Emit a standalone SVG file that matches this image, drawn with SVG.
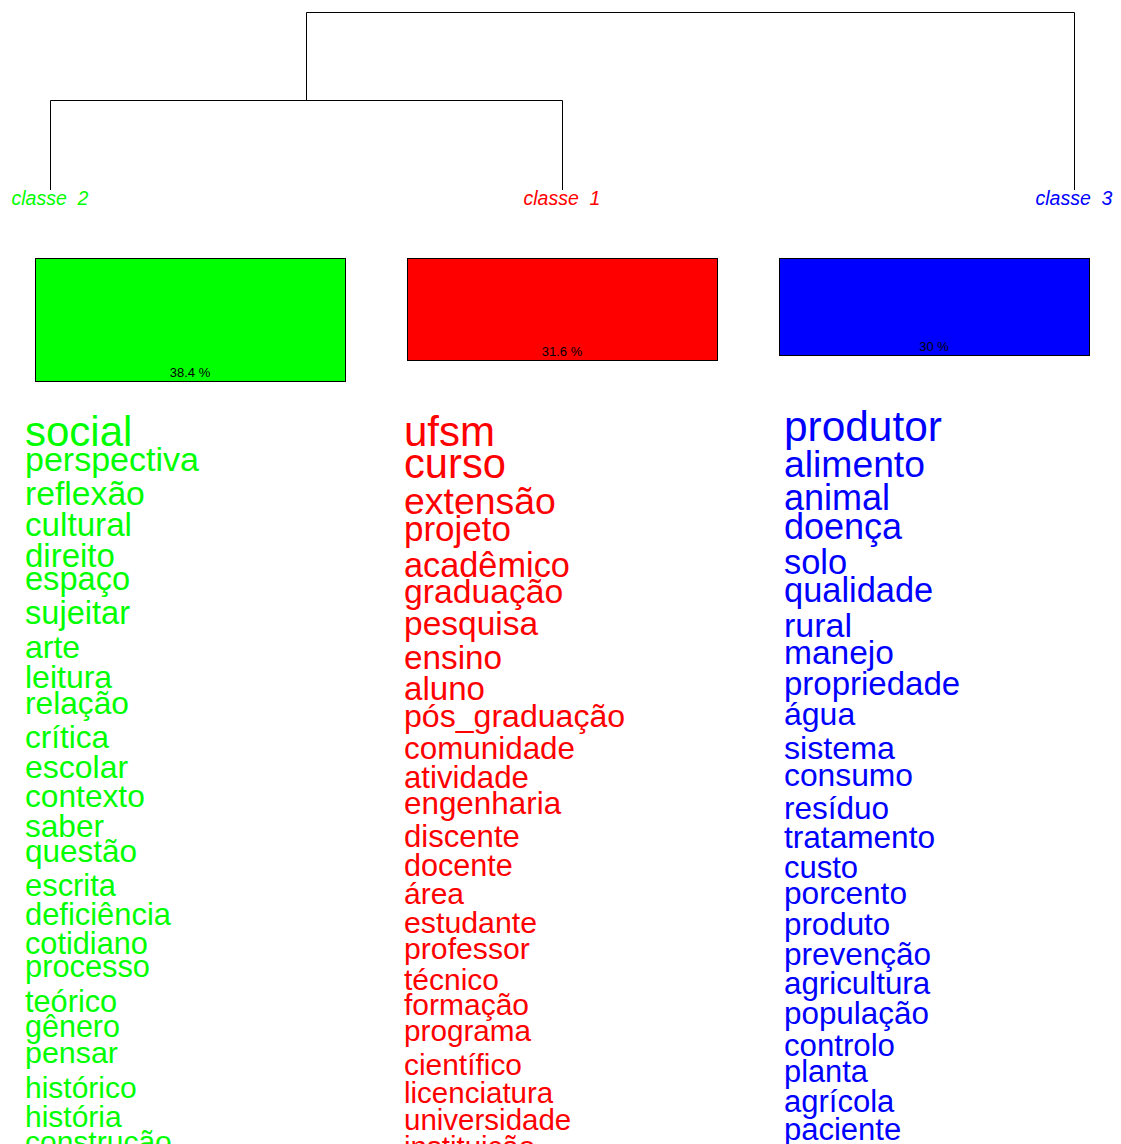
<svg xmlns="http://www.w3.org/2000/svg" width="1121" height="1144" viewBox="0 0 1121 1144">
<style>
text{font-family:"Liberation Sans",Arial,sans-serif}
.g{fill:#00FF00}.r{fill:#FF0000}.b{fill:#0000FF}
.lbl{font-style:italic;font-size:19.5px;text-anchor:middle}
.pct{font-size:13px;text-anchor:middle;fill:#000}
.box{stroke:#000;stroke-width:1}
.tree{stroke:#000;stroke-width:1;fill:none}
</style>
<rect width="1121" height="1144" fill="#fff"/>
<g id="connectors">
<path class="tree" d="M306.5,100V12.5H1074.5V190"/>
<path class="tree" d="M50.5,190V100.5H562.5V190"/>
</g>
<g id="classe2">
<text class="lbl g" x="50" y="205" xml:space="preserve">classe  2</text>
<rect class="box" x="35.5" y="258.5" width="310" height="123" fill="#00FF00"/>
<text class="pct" x="190" y="377">38.4 %</text>
<g class="g">
<text x="25" y="446" font-size="42">social</text>
<text x="25" y="471" font-size="34">perspectiva</text>
<text x="25" y="505" font-size="33.7">reflexão</text>
<text x="25" y="536" font-size="33.2">cultural</text>
<text x="25" y="567" font-size="33">direito</text>
<text x="25" y="590" font-size="32.6">espaço</text>
<text x="25" y="624" font-size="32.6">sujeitar</text>
<text x="25" y="658" font-size="32">arte</text>
<text x="25" y="688" font-size="32">leitura</text>
<text x="25" y="714" font-size="31.7">relação</text>
<text x="25" y="748" font-size="31.5">crítica</text>
<text x="25" y="778" font-size="32">escolar</text>
<text x="25" y="807" font-size="31.7">contexto</text>
<text x="25" y="837" font-size="31.6">saber</text>
<text x="25" y="862" font-size="31.5">questão</text>
<text x="25" y="896" font-size="30.9">escrita</text>
<text x="25" y="925" font-size="30.9">deficiência</text>
<text x="25" y="954" font-size="30.7">cotidiano</text>
<text x="25" y="977" font-size="30.8">processo</text>
<text x="25" y="1012" font-size="30.7">teórico</text>
<text x="25" y="1037" font-size="30.5">gênero</text>
<text x="25" y="1063" font-size="30.4">pensar</text>
<text x="25" y="1098" font-size="30">histórico</text>
<text x="25" y="1127" font-size="30">história</text>
<text x="25" y="1152" font-size="30">construção</text>
</g>
</g>
<g id="classe1">
<text class="lbl r" x="562" y="205" xml:space="preserve">classe  1</text>
<rect class="box" x="407.5" y="258.5" width="310" height="102" fill="#FF0000"/>
<text class="pct" x="562" y="356">31.6 %</text>
<g class="r">
<text x="404" y="446" font-size="42">ufsm</text>
<text x="404" y="478" font-size="41.7">curso</text>
<text x="404" y="514" font-size="37.4">extensão</text>
<text x="404" y="541" font-size="35">projeto</text>
<text x="404" y="577" font-size="34.3">acadêmico</text>
<text x="404" y="603" font-size="33.7">graduação</text>
<text x="404" y="635" font-size="33.5">pesquisa</text>
<text x="404" y="669" font-size="33.3">ensino</text>
<text x="404" y="700" font-size="33.1">aluno</text>
<text x="404" y="727" font-size="32.1">pós_graduação</text>
<text x="404" y="759" font-size="31.4">comunidade</text>
<text x="404" y="788" font-size="31.2">atividade</text>
<text x="404" y="814" font-size="31.4">engenharia</text>
<text x="404" y="847" font-size="31.1">discente</text>
<text x="404" y="876" font-size="30.6">docente</text>
<text x="404" y="904" font-size="30">área</text>
<text x="404" y="933" font-size="30.3">estudante</text>
<text x="404" y="959" font-size="30.2">professor</text>
<text x="404" y="990" font-size="30">técnico</text>
<text x="404" y="1015" font-size="30">formação</text>
<text x="404" y="1041" font-size="29.7">programa</text>
<text x="404" y="1075" font-size="29.9">científico</text>
<text x="404" y="1103" font-size="29.5">licenciatura</text>
<text x="404" y="1130" font-size="29.5">universidade</text>
<text x="404" y="1157" font-size="29.5">instituição</text>
</g>
</g>
<g id="classe3">
<text class="lbl b" x="1074" y="205" xml:space="preserve">classe  3</text>
<rect class="box" x="779.5" y="258.5" width="310" height="97" fill="#0000FF"/>
<text class="pct" x="934" y="351">30 %</text>
<g class="b">
<text x="784" y="441" font-size="42.4">produtor</text>
<text x="784" y="477" font-size="37.3">alimento</text>
<text x="784" y="510" font-size="36">animal</text>
<text x="784" y="539" font-size="36">doença</text>
<text x="784" y="574" font-size="34.4">solo</text>
<text x="784" y="602" font-size="34.4">qualidade</text>
<text x="784" y="637" font-size="34">rural</text>
<text x="784" y="664" font-size="33.5">manejo</text>
<text x="784" y="695" font-size="33">propriedade</text>
<text x="784" y="725" font-size="32">água</text>
<text x="784" y="759" font-size="32.2">sistema</text>
<text x="784" y="786" font-size="31.8">consumo</text>
<text x="784" y="819" font-size="31.5">resíduo</text>
<text x="784" y="848" font-size="31.6">tratamento</text>
<text x="784" y="878" font-size="31">custo</text>
<text x="784" y="904" font-size="31.6">porcento</text>
<text x="784" y="935" font-size="31.3">produto</text>
<text x="784" y="965" font-size="31.5">prevenção</text>
<text x="784" y="994" font-size="31.3">agricultura</text>
<text x="784" y="1024" font-size="31.4">população</text>
<text x="784" y="1056" font-size="31.2">controlo</text>
<text x="784" y="1082" font-size="30.8">planta</text>
<text x="784" y="1112" font-size="31">agrícola</text>
<text x="784" y="1140" font-size="31">paciente</text>
</g>
</g>
</svg>
